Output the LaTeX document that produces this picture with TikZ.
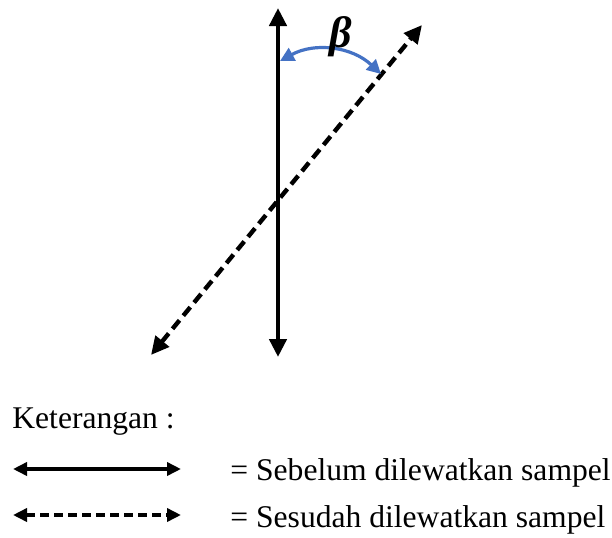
\documentclass[tikz,border=0pt]{standalone}
\usepackage{fontspec}
\setmainfont{Liberation Serif}
\usetikzlibrary{arrows.meta, positioning}
\definecolor{cblue}{HTML}{4472C4}
\tikzset{
  every picture/.style={x=0.5pt, y=-0.5pt},
  txt/.style={font=\fontsize{15.8}{19}\selectfont, inner sep=0pt, anchor=base west},
  before/.style={{Triangle[length=9pt,width=8.5pt]}-{Triangle[length=9pt,width=8.5pt]}, line width=2.2pt},
  after/.style={before, dash pattern=on 5.5pt off 3pt},
  keyline/.style={{Triangle[length=7pt,width=6.5pt]}-{Triangle[length=7pt,width=6.5pt]}, line width=2pt},
  keydash/.style={keyline, dash pattern=on 4.5pt off 2.5pt},
  angle/.style={{Triangle[length=7pt,width=7pt]}-{Triangle[length=7pt,width=7pt]}, draw=cblue, line width=1.6pt},
}

\begin{document}
\begin{tikzpicture}
  \useasboundingbox (0,0) rectangle (612,537);
  % the two axes
  \coordinate (vtop) at (278,8);
  \coordinate (vbot) at (278,357);
  \coordinate (dtop) at (422,25);
  \coordinate (dbot) at (151,355);
  \draw[before] (vbot) -- (vtop);
  \draw[after] (dbot) -- (dtop);
  % angle between them
  \coordinate (aleft) at (280,61);
  \coordinate (aright) at (381,74);
  \draw[angle] (aleft) to[bend left=36] (aright);
  \node[font=\fontsize{22}{26}\selectfont\bfseries\itshape, inner sep=0pt] (beta) at (341,37) {β};
  % legend
  \node[txt] (ket) at (12,428) {Keterangan :};
  \coordinate (k1a) at (13,469);
  \coordinate (k1b) at (181,469);
  \coordinate (k2a) at (13,515);
  \coordinate (k2b) at (181,515);
  \draw[keyline] (k1a) -- (k1b);
  \draw[keydash] (k2a) -- (k2b);
  \node[txt] (sebelum) at (230,480) {= Sebelum dilewatkan sampel};
  \node[txt] (sesudah) at (230,527) {= Sesudah dilewatkan sampel};
\end{tikzpicture}
\end{document}
